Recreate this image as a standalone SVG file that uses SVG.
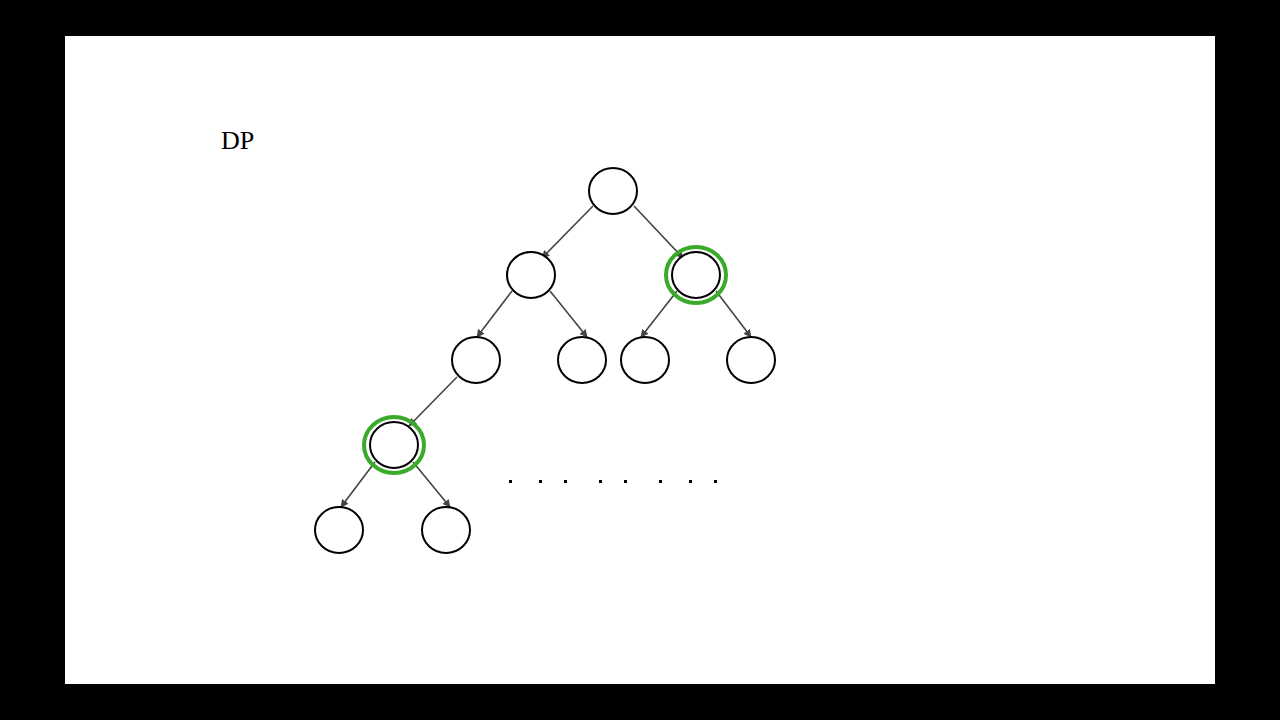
<svg xmlns="http://www.w3.org/2000/svg" width="1280" height="720" viewBox="0 0 1280 720">
<defs>
<style>
.n{fill:#fff;stroke:#000;stroke-width:2}
.g{fill:none;stroke:#3aaa2a;stroke-width:4}
.c{stroke:#444;stroke-width:1.6;fill:none;marker-end:url(#ah)}
.d{fill:#000}
</style>
<marker id="ah" viewBox="0 0 10 10" refX="9" refY="5" markerWidth="8" markerHeight="8" orient="auto" markerUnits="userSpaceOnUse">
<path d="M0,0 L10,5 L0,10 z" fill="#444"/>
</marker>
</defs>
<rect width="1280" height="720" fill="#000"/>
<rect x="65" y="36" width="1150" height="648" fill="#fff"/>
<text x="221" y="149" font-family="Liberation Serif, serif" font-size="26" fill="#000">DP</text>
<g id="connectors">
<line class="c" x1="593" y1="206" x2="542" y2="258"/>
<line class="c" x1="634" y1="206" x2="683" y2="258"/>
<line class="c" x1="512" y1="291" x2="477" y2="337"/>
<line class="c" x1="550" y1="291" x2="587" y2="337"/>
<line class="c" x1="677" y1="291" x2="641" y2="337"/>
<line class="c" x1="716" y1="291" x2="751" y2="337"/>
<line class="c" x1="457" y1="377" x2="409" y2="426"/>
<line class="c" x1="375" y1="462" x2="341" y2="507"/>
<line class="c" x1="413" y1="462" x2="450" y2="507"/>
</g>
<g id="root"><ellipse class="n" cx="613" cy="191" rx="24" ry="23"/></g>
<g id="l1a"><ellipse class="n" cx="531" cy="275" rx="24" ry="23"/></g>
<g id="l1b"><ellipse class="g" cx="696" cy="275" rx="30" ry="28"/><ellipse class="n" cx="696" cy="275" rx="24" ry="23"/></g>
<g id="l2a"><ellipse class="n" cx="476" cy="360" rx="24" ry="23"/></g>
<g id="l2b"><ellipse class="n" cx="582" cy="360" rx="24" ry="23"/></g>
<g id="l2c"><ellipse class="n" cx="645" cy="360" rx="24" ry="23"/></g>
<g id="l2d"><ellipse class="n" cx="751" cy="360" rx="24" ry="23"/></g>
<g id="l3a"><ellipse class="g" cx="394" cy="445" rx="30" ry="28"/><ellipse class="n" cx="394" cy="445" rx="24" ry="23"/></g>
<g id="l4a"><ellipse class="n" cx="339" cy="530" rx="24" ry="23"/></g>
<g id="l4b"><ellipse class="n" cx="446" cy="530" rx="24" ry="23"/></g>
<g id="dots">
<rect class="d" x="509" y="480" width="3" height="3"/>
<rect class="d" x="539" y="480" width="3" height="3"/>
<rect class="d" x="564" y="480" width="3" height="3"/>
<rect class="d" x="599" y="480" width="3" height="3"/>
<rect class="d" x="624" y="480" width="3" height="3"/>
<rect class="d" x="659" y="480" width="3" height="3"/>
<rect class="d" x="689" y="480" width="3" height="3"/>
<rect class="d" x="714" y="480" width="3" height="3"/>
</g>
</svg>
